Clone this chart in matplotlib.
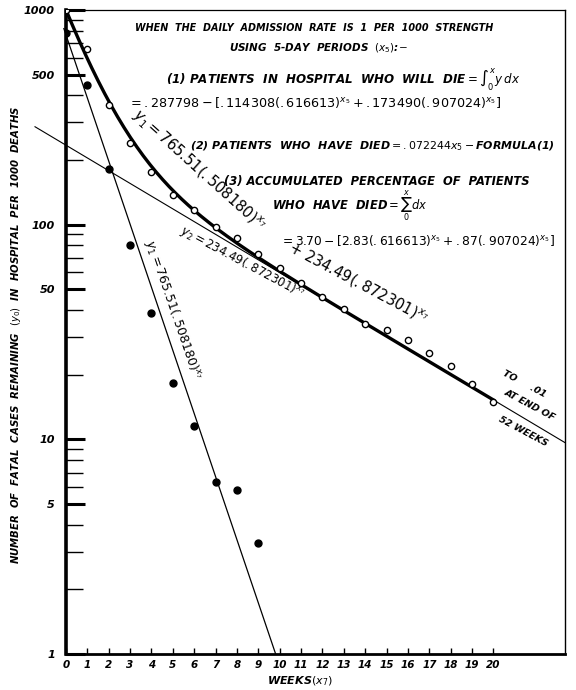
import numpy as np
import matplotlib
matplotlib.use("Agg")
import matplotlib.pyplot as plt

# ---------------- data ----------------
weeks_open = [0, 1, 2, 3, 4, 5, 6, 7, 8, 9, 10, 11, 12, 13, 14, 15, 16, 17, 18, 19, 20]
open_vals = [1000, 658, 361, 240, 176, 137, 117, 97.5, 86.7, 73, 62.8, 53.5, 46, 40.4,
             34.4, 32.4, 29, 25.2, 22, 18.1, 14.9]
weeks_filled = [0, 1, 2, 3, 4, 5, 6, 7, 8, 9]
filled_vals = [780, 448, 182, 80, 38.8, 18.3, 11.5, 6.3, 5.8, 3.3]

a1, r1 = 765.51, 0.508180
a2, r2 = 234.49, 0.872301

ytick_vals = [1, 5, 10, 50, 100, 500, 1000]
ytick_labels = ["1", "5", "10", "50", "100", "500", "1000"]
xtick_vals = list(range(0, 21))

# ---------------- style ----------------
plt.rcParams['font.family'] = ['DejaVu Sans']
plt.rcParams['mathtext.fontset'] = 'dejavusans'
plt.rcParams['mathtext.default'] = 'it'

W, H = 576, 690
fig = plt.figure(figsize=(W / 100, H / 100), dpi=100)
L, R, T, B = 66, 565, 10, 654
ax = fig.add_axes([L / W, 1 - B / H, (R - L) / W, (B - T) / H])
ax.set_yscale('log')
ax.set_xlim(0, 23.35)
ax.set_ylim(1, 1000)

def P(x, y):
    return (x / W, 1 - y / H)

TXT = dict(fontstyle='italic', fontweight='bold', color='black')

# curves
xs_c = np.linspace(0, 20, 200)
ax.plot(xs_c, a1 * r1 ** xs_c + a2 * r2 ** xs_c, color='black', lw=2.4, zorder=3)
x_end1 = np.log(a1) / -np.log(r1)
xs_1 = np.linspace(-0.1, x_end1, 50)
ax.plot(xs_1, a1 * r1 ** xs_1, color='black', lw=0.9, clip_on=False, zorder=2)
xs_2 = np.linspace(-1.45, 23.35, 50)
ax.plot(xs_2, a2 * r2 ** xs_2, color='black', lw=0.8, clip_on=False, zorder=2)

ax.plot(weeks_open, open_vals, 'o', ms=4.5, mfc='white', mec='black', mew=1.0, zorder=4)
ax.plot(weeks_filled, filled_vals, 'o', ms=5, color='black', zorder=4)

# spines
for s in ax.spines.values():
    s.set_color('black')
ax.spines['left'].set_linewidth(2.6)
ax.spines['bottom'].set_linewidth(2.0)
ax.spines['right'].set_linewidth(1.0)
ax.spines['top'].set_linewidth(0.9)

# y ticks
ax.set_yticks(ytick_vals)
ax.set_yticklabels(ytick_labels, **TXT, fontsize=8)
minor = [m * 10 ** d for d in range(0, 3) for m in range(2, 10) if m != 5]
ax.set_yticks(minor, minor=True)
ax.yaxis.set_minor_formatter(matplotlib.ticker.NullFormatter())
ax.tick_params(axis='y', which='major', direction='in', length=14, width=2.2, pad=8)
ax.tick_params(axis='y', which='minor', direction='in', length=12, width=1.0)
ax.tick_params(axis='y', which='major', right=False)

# x ticks
ax.set_xticks(xtick_vals)
ax.set_xticklabels([str(v) for v in xtick_vals], **TXT, fontsize=7.5)
ax.tick_params(axis='x', which='major', direction='in', length=4, width=1.0, pad=4)
ax.tick_params(axis='x', which='minor', bottom=False)

# axis labels
fig.text(*P(16, 335), r"NUMBER  OF  FATAL  CASES  REMAINING  $(y_0)$  IN  HOSPITAL  PER  1000  DEATHS",
         rotation=90, ha='center', va='center', fontsize=7.3, **TXT)
fig.text(*P(300, 681), r"WEEKS$(x_7)$", ha='center', va='center', fontsize=8, **TXT)

# formula block
fig.text(*P(314, 28), "WHEN  THE  DAILY  ADMISSION  RATE  IS  1  PER  1000  STRENGTH",
         ha='center', va='center', fontsize=6.9, **TXT)
fig.text(*P(318, 48), r"USING  5-DAY  PERIODS  $(x_5)$:$-$", ha='center', va='center', fontsize=7.5, **TXT)
fig.text(*P(343, 80), r"(1) PATIENTS  IN  HOSPITAL  WHO  WILL  DIE$=\int_0^x y\,dx$",
         ha='center', va='center', fontsize=8.6, **TXT)
fig.text(*P(315, 103), r"$=.287798-\left[.114308(.616613)^{x_5}+.173490(.907024)^{x_5}\right]$",
         ha='center', va='center', fontsize=9.2, color='black')
fig.text(*P(372, 146), r"(2) PATIENTS  WHO  HAVE  DIED$=.072244x_5-$FORMULA(1)",
         ha='center', va='center', fontsize=7.9, **TXT)
fig.text(*P(377, 182), "(3) ACCUMULATED  PERCENTAGE  OF  PATIENTS",
         ha='center', va='center', fontsize=8.3, **TXT)
fig.text(*P(350, 206), r"WHO  HAVE  DIED$=\sum_0^x dx$",
         ha='center', va='center', fontsize=8.3, **TXT)
fig.text(*P(418, 240), r"$=3.70-\left[2.83(.616613)^{x_5}+.87(.907024)^{x_5}\right]$",
         ha='center', va='center', fontsize=8.8, color='black')

# rotated labels
fig.text(*P(198, 170), r"$y_1=765.51(.508180)^{x_7}$", rotation=-42, ha='center', va='center',
         fontsize=10.5, color='black', rotation_mode='anchor')
fig.text(*P(358, 283), r"$+\ 234.49(.872301)^{x_7}$", rotation=-28, ha='center', va='center',
         fontsize=10.5, color='black', rotation_mode='anchor')
fig.text(*P(242, 262), r"$y_2=234.49(.872301)^{x_7}$", rotation=-28, ha='center', va='center',
         fontsize=8.5, color='black', rotation_mode='anchor')
fig.text(*P(173, 310), r"$y_1=765.51(.508180)^{x_7}$", rotation=-71, ha='center', va='center',
         fontsize=9, color='black', rotation_mode='anchor')
fig.text(*P(524, 384), "TO     .01", rotation=-28, ha='center', va='center', fontsize=6.8,
         rotation_mode='anchor', **TXT)
fig.text(*P(530, 405), "AT END OF", rotation=-28, ha='center', va='center', fontsize=6.8,
         rotation_mode='anchor', **TXT)
fig.text(*P(523, 432), "52 WEEKS", rotation=-28, ha='center', va='center', fontsize=6.8,
         rotation_mode='anchor', **TXT)

fig.savefig("out.png", dpi=100, facecolor='white')
